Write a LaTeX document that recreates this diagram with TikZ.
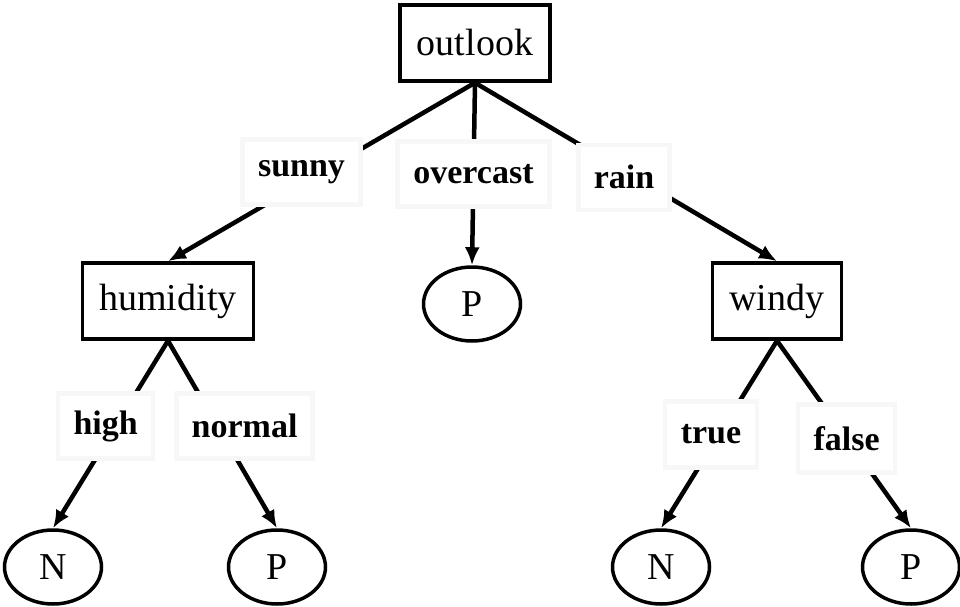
\documentclass[tikz,border=0pt]{standalone}
\usepackage{fontspec}
\setmainfont{Liberation Serif}
\usetikzlibrary{arrows.meta, shapes.geometric}
\tikzset{
  attr/.style    = {rectangle, draw=black, line width=3.5pt, fill=white,
                    inner xsep=17pt, inner ysep=0pt, minimum height=76pt,
                    font=\fontsize{38}{40}\selectfont},
  leaf/.style    = {ellipse, draw=black, line width=3.5pt, fill=white,
                    inner sep=0pt, minimum width=97pt, minimum height=74pt,
                    font=\fontsize{38}{40}\selectfont},
  val/.style     = {rectangle, draw=black!3, fill=white,
                    inner xsep=15pt, inner ysep=0pt, minimum height=65pt,
                    font=\fontsize{34}{36}\selectfont\bfseries},
  arr/.style     = {-{Latex[length=18pt,width=15pt]}, line width=4.5pt},
}
\begin{document}
\begin{tikzpicture}[x=1pt, y=-1pt]
  \useasboundingbox (0,0) rectangle (960,607);

  % ROOT
  \node[attr] (outlook) at (475,43) {outlook};

  % LEVEL 1
  \node[attr] (humidity) at (168,301) {humidity};
  \node[leaf] (pmid) at (472,304) {P};
  \node[attr] (windy) at (777,301) {windy};

  % LEVEL 2
  \node[leaf] (nleft) at (53,567) {N};
  \node[leaf] (pleft) at (277,567) {P};
  \node[leaf] (nright) at (661,567) {N};
  \node[leaf] (pright) at (911,567) {P};

  % branches with values
  \draw[arr] (outlook.south) -- node[val, pos=0.5, xshift=-20pt, minimum width=118pt] {sunny} (humidity.north);
  \draw[arr] (outlook.south) -- node[val, pos=0.5, minimum width=152pt] {overcast} (pmid.north);
  \draw[arr] (outlook.south) -- node[val, pos=0.53, xshift=-11pt, minimum width=91pt] {rain} (windy.north);

  \draw[arr] (humidity.south) -- node[val, pos=0.455, xshift=-10pt, minimum width=95pt] {high} (nleft.north);
  \draw[arr] (humidity.south) -- node[val, pos=0.455, xshift=27pt, minimum width=136pt] {normal} (pleft.north);

  \draw[arr] (windy.south) -- node[val, pos=0.5, xshift=-8pt, minimum width=92pt, minimum height=66pt] {true} (nright.north);
  \draw[arr] (windy.south) -- node[val, pos=0.52, minimum width=97pt, minimum height=68pt] {false} (pright.north);

\end{tikzpicture}
\end{document}
